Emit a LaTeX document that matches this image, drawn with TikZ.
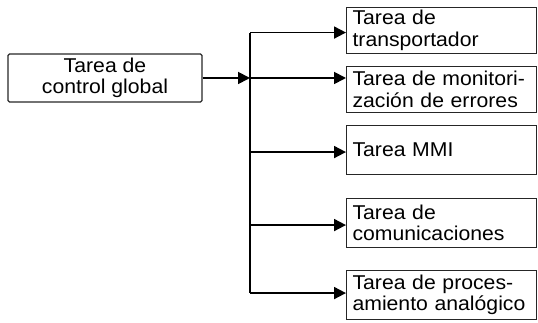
\documentclass[tikz,border=0pt]{standalone}
\usepackage{fontspec}
\setmainfont{Liberation Sans}[FakeStretch=1.06]
\usetikzlibrary{arrows.meta}
\tikzset{
  taskbox/.style={draw=black!85, line width=1.1pt, anchor=north west,
    text width=178pt, inner xsep=6pt, inner ysep=2pt, align=left,
    minimum width=190pt, font=\fontsize{20}{21.5}\selectfont},
  ctrlbox/.style={draw=black!85, line width=1.1pt, rounded corners=1.5pt,
    minimum width=194pt, minimum height=48pt, align=center,
    font=\fontsize{20}{21.5}\selectfont},
  conn/.style={line width=1.8pt, black},
  arr/.style={conn, -{Triangle[length=12pt,width=12pt]}}
}
\begin{document}
\begin{tikzpicture}[x=1pt,y=-1pt]
\useasboundingbox (0,0) rectangle (538,323);
\node[ctrlbox] (ctrl) at (105,78) {Tarea de\\control global};
\node[taskbox, minimum height=46pt] (t1) at (346,7) {Tarea de\\transportador};
\node[taskbox, minimum height=46pt] (t2) at (346,66) {Tarea de~monitori-\\zación de errores};
\node[taskbox, minimum height=49pt] (t3) at (346,125) {Tarea MMI};
\node[taskbox, minimum height=49pt] (t4) at (346,198) {Tarea de\\comunicaciones};
\node[taskbox, minimum height=49pt] (t5) at (346,270) {Tarea de~proces-\\amiento~analógico};
\coordinate (bus) at (250,0);
\draw[conn] ([yshift=-2pt]bus |- t1.west) -- ([yshift=2pt]bus |- t5.west);
\draw[arr] (ctrl.east) -- (bus |- ctrl.east);
\draw[arr] (bus |- ctrl.east) -- (t2.west |- ctrl.east);
\draw[arr] ([yshift=-2pt]bus |- t1.west) -- ([yshift=-2pt]t1.west);
\draw[arr] ([yshift=-2pt]bus |- t3.west) -- ([yshift=-2pt]t3.west);
\draw[arr] ([yshift=-2pt]bus |- t4.west) -- ([yshift=-2pt]t4.west);
\draw[arr] ([yshift=2pt]bus |- t5.west) -- ([yshift=2pt]t5.west);
\end{tikzpicture}
\end{document}
